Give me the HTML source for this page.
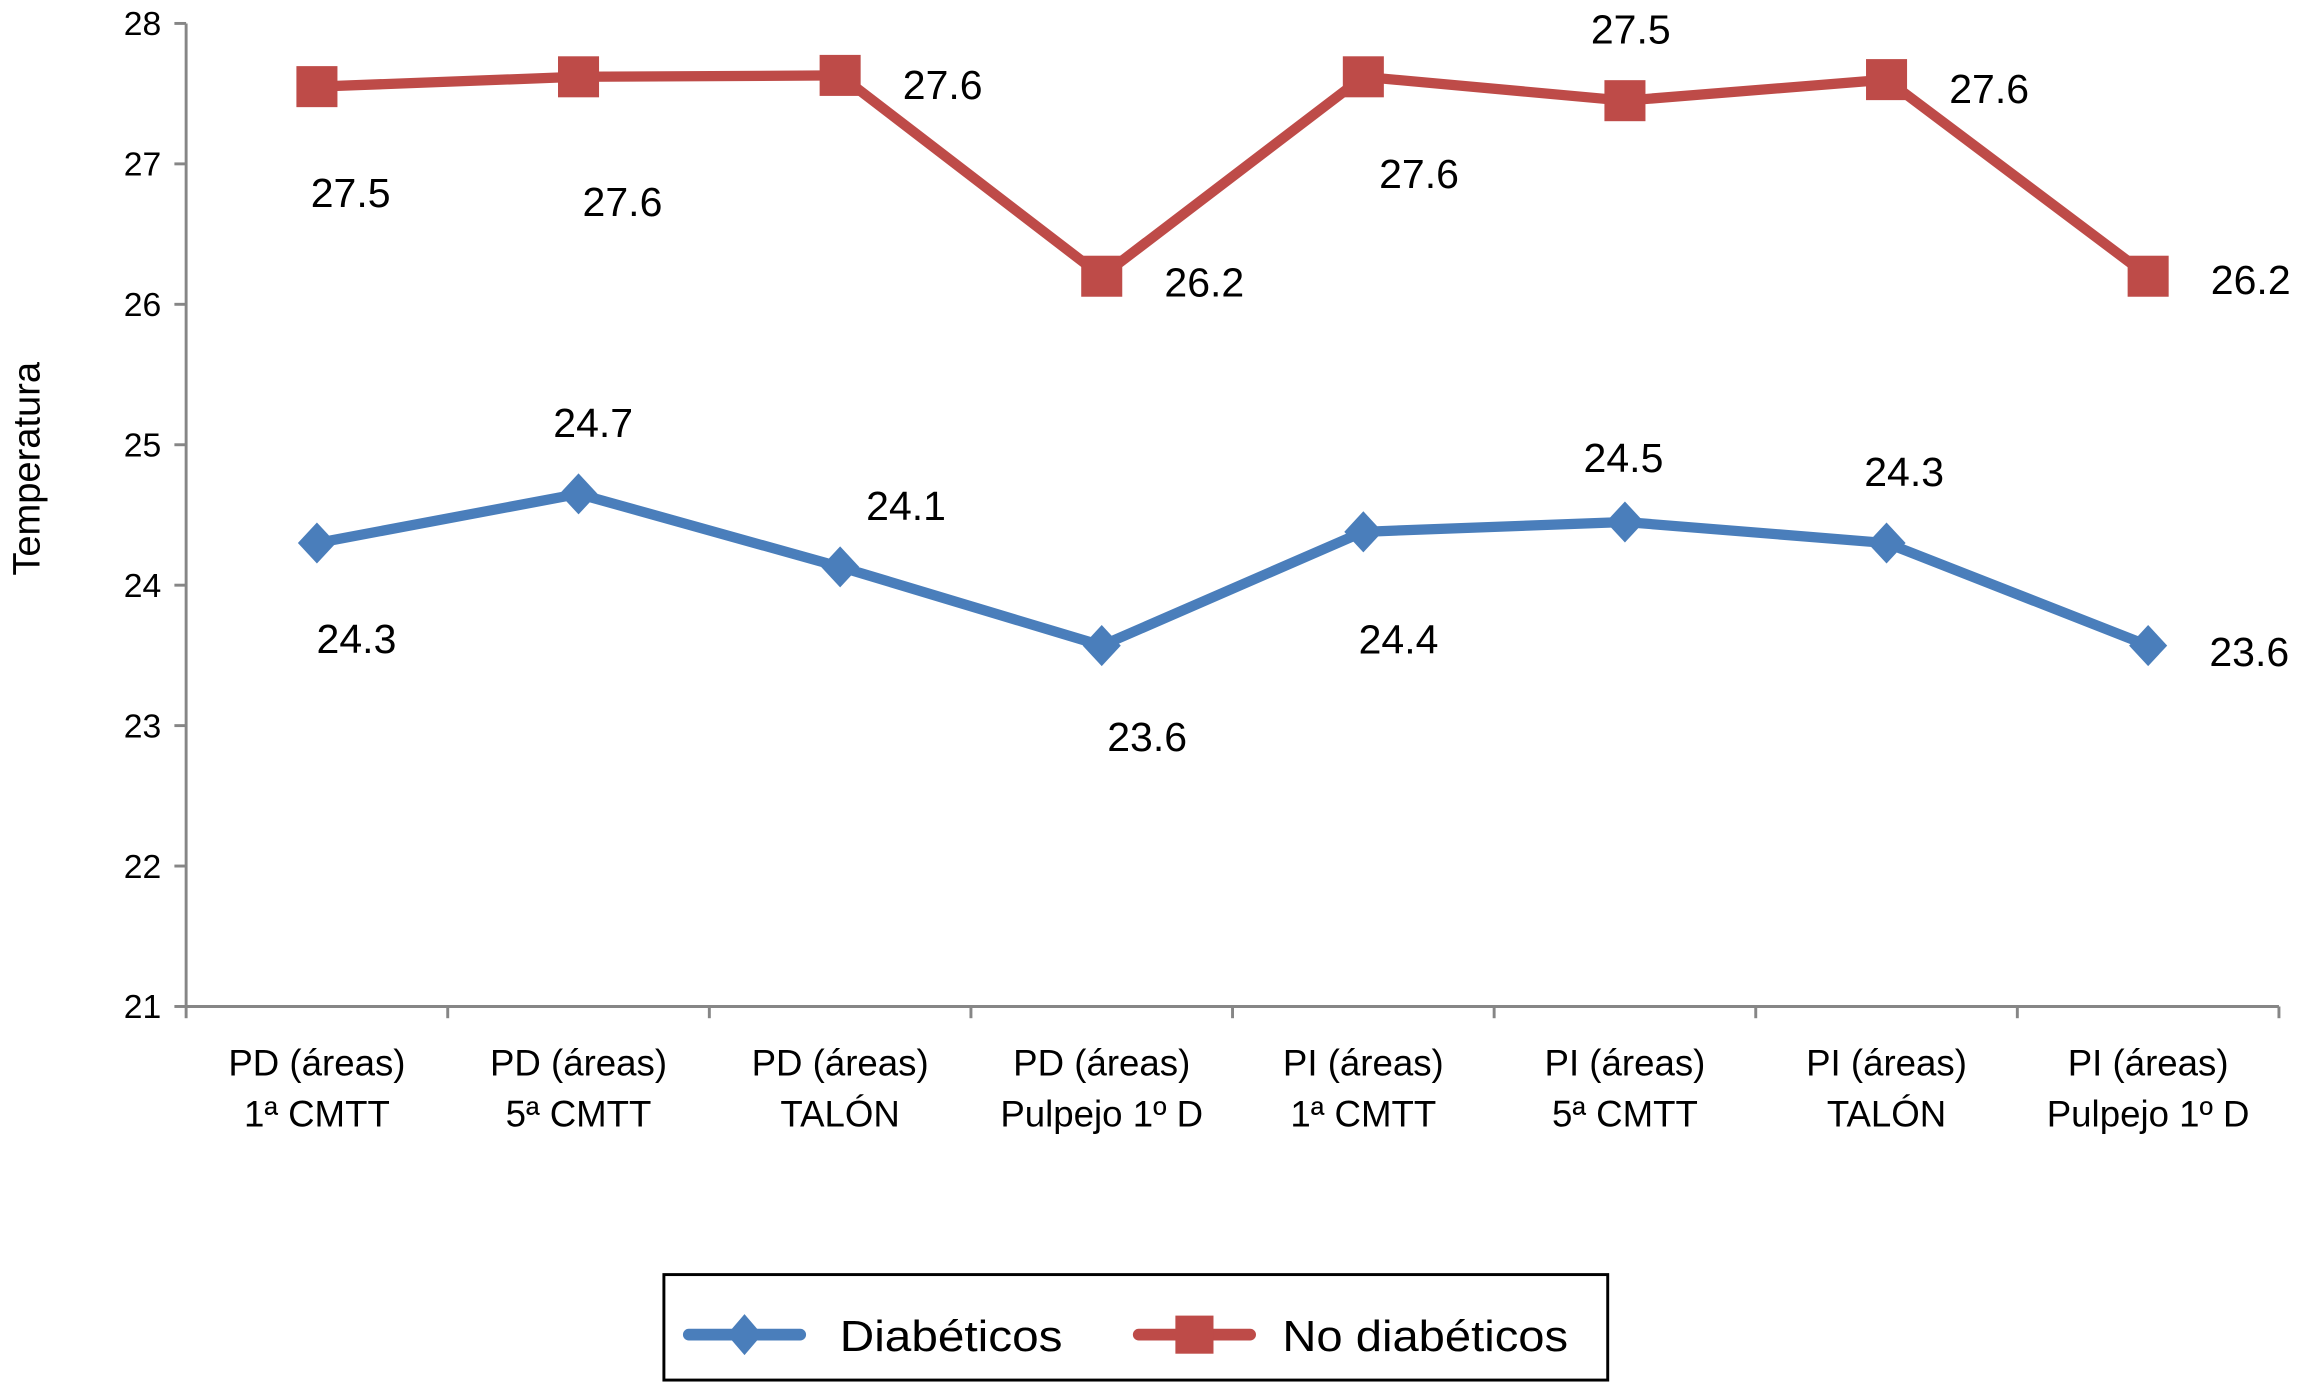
<!DOCTYPE html>
<html><head><meta charset="utf-8"><style>
html,body{margin:0;padding:0;background:#fff;}
svg{display:block;font-family:"Liberation Sans",Arial,sans-serif;}
</style></head><body>
<svg id="chart" width="2298" height="1383" viewBox="0 0 1568 944" preserveAspectRatio="none">
<g id="axes"></g><g id="series"></g><g id="labels"></g>
<g>
<rect x="453" y="870" width="644" height="72" fill="#fff" stroke="#000" stroke-width="2"/>
<g>
<line x1="470" y1="911" x2="546" y2="911" stroke="#4a7ebb" stroke-width="8" stroke-linecap="round"/>
<path d="M508 897 L520 911 L508 925 L496 911Z" fill="#4a7ebb"/>
<text x="573" y="922" font-size="30" textLength="152" lengthAdjust="spacingAndGlyphs">Diabéticos</text></g>
<g>
<line x1="777" y1="911" x2="853" y2="911" stroke="#be4b48" stroke-width="8" stroke-linecap="round"/>
<rect x="802" y="898" width="26" height="26" fill="#be4b48"/>
<text x="875" y="922" font-size="30" textLength="195" lengthAdjust="spacingAndGlyphs">No diabéticos</text></g>
</g>
<text transform="translate(27,320) rotate(-90)" text-anchor="middle" font-size="26">Temperatura</text>
</svg>
<script>
const categories1 = ["PD (áreas)","PD (áreas)","PD (áreas)","PD (áreas)","PI (áreas)","PI (áreas)","PI (áreas)","PI (áreas)"];
const categories2 = ["1ª CMTT","5ª CMTT","TALÓN","Pulpejo 1º D","1ª CMTT","5ª CMTT","TALÓN","Pulpejo 1º D"];
const diabeticos = [24.3,24.65,24.13,23.57,24.38,24.45,24.3,23.57];
const noDiabeticos = [27.55,27.62,27.63,26.2,27.62,27.45,27.6,26.2];
const diabeticosLabels = ["24.3","24.7","24.1","23.6","24.4","24.5","24.3","23.6"];
const noDiabeticosLabels = ["27.5","27.6","27.6","26.2","27.6","27.5","27.6","26.2"];
const yTicks = [21,22,23,24,25,26,27,28];
const blueOff = [[27,65],[10,-49],[45,-42],[31,62],[24,73],[-1,-44],[12,-49],[69,4]];
const redOff = [[23,72],[30,85],[70,6],[70,4],[38,66],[4,-49],[70,6],[70,2]];
const NS="http://www.w3.org/2000/svg";
const X0=127,X1=1555,Y0=687,Y1=16,YMIN=21,YMAX=28;
const step=(X1-X0)/categories1.length;
function xs(i){return X0+step*(i+0.5);}
function ys(v){return Y0-(v-YMIN)/(YMAX-YMIN)*(Y0-Y1);}
function mk(tag,attrs,parent){const e=document.createElementNS(NS,tag);for(const k in attrs)e.setAttribute(k,attrs[k]);parent.appendChild(e);return e;}
const axes=document.getElementById('axes'),ser=document.getElementById('series'),lab=document.getElementById('labels');
let ya=mk('line',{x1:X0,y1:Y1,x2:X0,y2:Y0,stroke:'#868686','stroke-width':2},axes);


let xa=mk('line',{x1:X0,y1:Y0,x2:X1,y2:Y0,stroke:'#868686','stroke-width':2},axes);


yTicks.forEach(v=>{const y=ys(v);
 mk('line',{x1:X0-8,y1:y,x2:X0,y2:y,stroke:'#868686','stroke-width':2},axes);
 const t=mk('text',{x:110,y:y+8,'text-anchor':'end','font-size':23},axes);t.textContent=v;
 
 
});
for(let i=0;i<=categories1.length;i++){const x=X0+step*i;mk('line',{x1:x,y1:Y0,x2:x,y2:Y0+8,stroke:'#868686','stroke-width':2},axes);}
categories1.forEach((c,i)=>{
 const t=mk('text',{x:xs(i),y:734,'text-anchor':'middle','font-size':25},axes);t.textContent=c;
 
 
 const t2=mk('text',{x:xs(i),y:769,'text-anchor':'middle','font-size':25},axes);t2.textContent=categories2[i];
 
 
});
function draw(vals,labels,offs,color,shape,name){
 const pts=vals.map((v,i)=>xs(i)+','+ys(v)).join(' ');
 const pl=mk('polyline',{points:pts,fill:'none',stroke:color,'stroke-width':7,'stroke-linejoin':'round'},ser);
 
 
 vals.forEach((v,i)=>{const x=xs(i),y=ys(v);let m;
  if(shape==='sq')m=mk('rect',{x:x-14,y:y-14,width:28,height:28,fill:color},ser);
  else m=mk('path',{d:`M${x} ${y-14}L${x+13} ${y}L${x} ${y+14}L${x-13} ${y}Z`,fill:color},ser);
  
  
  const t=mk('text',{x:x+offs[i][0],y:y+offs[i][1]+10,'text-anchor':'middle','font-size':28},lab);t.textContent=labels[i];
  
  
 });
}
draw(noDiabeticos,noDiabeticosLabels,redOff,'#be4b48','sq','no-diabeticos');
draw(diabeticos,diabeticosLabels,blueOff,'#4a7ebb','di','diabeticos');
</script>
</body></html>
